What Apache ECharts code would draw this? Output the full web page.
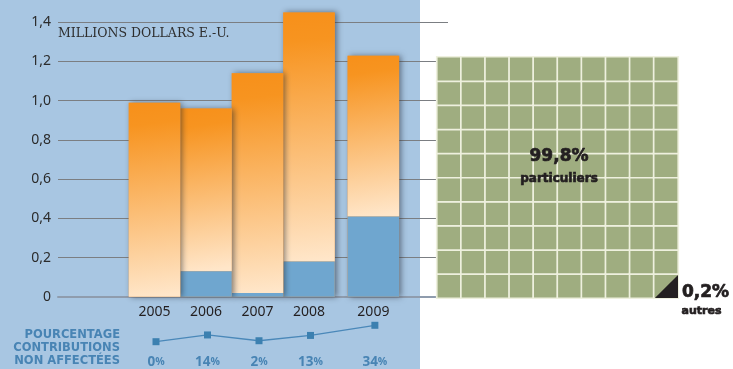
<!DOCTYPE html>
<html>
<head>
<meta charset="utf-8">
<script src="https://cdn.jsdelivr.net/npm/echarts@6.0.0/dist/echarts.min.js"></script>
<style>
  html, body { margin: 0; padding: 0; background: #ffffff; }
  #chart {
    width: 733px; height: 369px;
    background: linear-gradient(to right, #a8c6e2 0, #a8c6e2 420px, #ffffff 420px);
  }
</style>
</head>
<body>
<div id="chart"></div>
<script>
// Contributions by year (millions of US dollars)
const years = ['2005', '2006', '2007', '2008', '2009'];
const totalContributions = [0.99, 0.96, 1.14, 1.45, 1.23];
const unearmarked = [0, 0.13, 0.02, 0.18, 0.41];
const unearmarkedPct = [0, 14, 2, 13, 34];
const yTickLabels = ['0', '0,2', '0,4', '0,6', '0,8', '1,0', '1,2', '1,4'];
const unitLabel = 'MILLIONS DOLLARS E.-U.';
const pctTitle = ['POURCENTAGE', 'CONTRIBUTIONS', 'NON AFFECTÉES'];

// Donor breakdown (percent)
const donorShares = [99.8, 0.2];
const donorNames = ['particuliers', 'autres'];

// ---- layout helpers ----
// Each bar spans 4 narrow category slots; the latest year gets one extra slot of air.
const SLOTS_PER_BAR = 4;
const slots = [];
const yearSlot = [];
years.forEach((y, i) => {
  if (i === years.length - 1) slots.push('');
  yearSlot.push(slots.length);
  slots.push(y);
  if (i < years.length - 1) for (let k = 1; k < SLOTS_PER_BAR; k++) slots.push('');
});
const slotW = 12.875;
const barsLeft = 154.5 - slotW / 2;
const barsWidth = slots.length * slotW;
const plotTop = 22.3;
const plotHeight = 274.5;

const fmtComma = v => String(v).replace('.', ',');

const ink = '#231f20';
const pctBlue = '#4884b4';

const orangeFill = new echarts.graphic.LinearGradient(0, 0, 0.45, 1, [
  { offset: 0, color: '#f7901a' },
  { offset: 0.12, color: '#f79420' },
  { offset: 1, color: '#ffe6c9' }
]);

// Waffle cells: 10 x 10, one cell per percent
const waffleCells = [];
for (let x = 0; x < 10; x++) for (let y = 0; y < 10; y++) waffleCells.push([x, y, 1]);
const tenCats = Array.from({ length: 10 }, (_, i) => i);

const chart = echarts.init(document.getElementById('chart'), null, { renderer: 'canvas' });

// heavy caption text (a thin outline thickens the bold face)
const heavy = (text, x, y, size, align) => ({
  type: 'text', x, y, z: 10,
  style: {
    text, fill: ink, stroke: ink, lineWidth: 0.7,
    font: 'bold ' + size + 'px "DejaVu Sans"', align, verticalAlign: 'middle'
  }
});

chart.setOption({
  backgroundColor: 'transparent',
  animation: false,
  grid: [
    // 0: value scale and guide lines
    { left: 58, top: plotTop, width: 390, height: plotHeight },
    // 1: bars
    { left: barsLeft, top: plotTop, width: barsWidth, height: plotHeight },
    // 2: percentage line
    { left: barsLeft + 1.5, top: 322.4, width: barsWidth, height: 19.3 },
    // 3: waffle square
    { left: 437, top: 57, width: 241, height: 241 }
  ],
  xAxis: [
    {
      gridIndex: 0, type: 'value', min: 0, max: 1,
      axisLine: { show: true, lineStyle: { color: '#8f9cad', width: 2 } },
      axisTick: { show: false }, axisLabel: { show: false }, splitLine: { show: false }
    },
    {
      gridIndex: 1, type: 'category', data: slots,
      axisLine: { show: false }, axisTick: { show: false }, splitLine: { show: false },
      axisLabel: {
        interval: 0, margin: 15, verticalAlign: 'middle',
        color: ink, fontFamily: 'Noto Sans', fontSize: 14
      }
    },
    {
      gridIndex: 2, type: 'category', data: slots,
      axisLine: { show: false }, axisTick: { show: false }, splitLine: { show: false },
      axisLabel: {
        interval: 0, margin: 20, verticalAlign: 'middle',
        formatter: (val) => {
          const i = years.indexOf(val);
          return i < 0 ? '' : '{n|' + unearmarkedPct[i] + '}{p|%}';
        },
        rich: {
          n: { fontFamily: 'Open Sans', fontWeight: 'bold', fontSize: 13.5, color: pctBlue },
          p: { fontFamily: 'Open Sans', fontWeight: 'bold', fontSize: 10.5, color: pctBlue }
        }
      }
    },
    {
      gridIndex: 3, type: 'category', data: tenCats, show: false
    }
  ],
  yAxis: [
    {
      gridIndex: 0, type: 'value', min: 0, max: 1.4, interval: 0.2,
      axisLine: { show: false }, axisTick: { show: false },
      axisLabel: {
        margin: 7, color: '#2b2b2b', fontFamily: 'Noto Sans', fontSize: 14,
        verticalAlign: 'middle', padding: [0, 0, 9, 0],
        formatter: v => yTickLabels[Math.round(v / 0.2)]
      },
      splitLine: {
        show: true,
        lineStyle: {
          width: 1,
          color: ['rgba(0,0,0,0)', '#7b7e82', '#7b7e82', '#7b7e82', '#7b7e82', '#7b7e82', '#7b7e82', '#7b7e82']
        }
      }
    },
    { gridIndex: 1, type: 'value', min: 0, max: 1.4, show: false, splitLine: { show: false } },
    { gridIndex: 2, type: 'value', min: 0, max: 40, show: false, splitLine: { show: false } },
    { gridIndex: 3, type: 'category', data: tenCats, show: false }
  ],
  series: [
    {
      // stacked bars: unearmarked share (blue) under the rest (orange)
      type: 'custom', xAxisIndex: 1, yAxisIndex: 1, clip: false,
      data: years.map((y, i) => [yearSlot[i], unearmarked[i], totalContributions[i]]),
      renderItem(params, api) {
        const i = params.dataIndex;
        const x = api.value(0);
        const w = api.size([1, 0])[0] * SLOTS_PER_BAR;
        const base = api.coord([x, 0]);
        const mid = api.coord([x, api.value(1)]);
        const top = api.coord([x, api.value(2)]);
        const left = base[0] - w / 2;
        // earlier years sit in front so their shadow falls on the next bar
        const z = 100 - 3 * i;
        const children = [
          {
            type: 'rect', z2: z,
            shape: { x: left, y: top[1], width: w, height: base[1] - top[1] },
            style: { fill: '#e89a48', shadowBlur: 6, shadowOffsetX: 2, shadowOffsetY: 0, shadowColor: 'rgba(30,35,45,0.55)' }
          },
          {
            type: 'rect', z2: z + 1,
            shape: { x: left, y: top[1], width: w, height: mid[1] - top[1] },
            style: { fill: orangeFill }
          }
        ];
        if (api.value(1) > 0) {
          children.push({
            type: 'rect', z2: z + 1,
            shape: { x: left, y: mid[1], width: w, height: base[1] - mid[1] },
            style: { fill: '#6fa6cf' }
          });
        }
        return { type: 'group', children };
      }
    },
    {
      type: 'line', xAxisIndex: 2, yAxisIndex: 2,
      data: slots.map(s => {
        const i = years.indexOf(s);
        return i < 0 ? '-' : unearmarkedPct[i];
      }),
      connectNulls: true,
      symbol: 'rect', symbolSize: 7,
      lineStyle: { color: '#4a88b9', width: 1.3 },
      itemStyle: { color: '#3c80b0' },
      label: { show: false }
    },
    {
      type: 'heatmap', xAxisIndex: 3, yAxisIndex: 3,
      data: waffleCells,
      itemStyle: { color: '#9fad80', borderColor: '#eef0de', borderWidth: 1.7 },
      emphasis: { disabled: true }
    },
    {
      // the small "autres" share, drawn as a corner wedge of the last cell
      type: 'custom', xAxisIndex: 3, yAxisIndex: 3, z: 5,
      data: [[9, 0, donorShares[1]]],
      renderItem(params, api) {
        const c = api.coord([api.value(0), api.value(1)]);
        const s = api.size([1, 1]);
        const x0 = c[0] - s[0] / 2 + 1, x1 = c[0] + s[0] / 2;
        const y0 = c[1] - s[1] / 2 + 1, y1 = c[1] + s[1] / 2;
        return {
          type: 'polygon',
          shape: { points: [[x0, y1], [x1, y1], [x1, y0]] },
          style: { fill: ink }
        };
      }
    }
  ],
  graphic: [
    {
      type: 'text', x: 58, y: 34, z: 10,
      style: { text: unitLabel, fill: '#2e2e2e', font: '12.5px "DejaVu Serif"', align: 'left', verticalAlign: 'middle' }
    },
    {
      type: 'text', x: 120, y: 348.5, z: 10,
      style: {
        text: pctTitle.join('\n'), fill: pctBlue, font: 'bold 11.5px "DejaVu Sans"',
        align: 'right', verticalAlign: 'middle', lineHeight: 13
      }
    },
    heavy(fmtComma(donorShares[0]) + '%', 559, 156.5, 17, 'center'),
    heavy(donorNames[0], 559, 179, 12, 'center'),
    heavy(fmtComma(donorShares[1]) + '%', 682, 292.5, 17, 'left'),
    heavy(donorNames[1], 701.5, 310.7, 11, 'center')
  ]
});
</script>
</body>
</html>
